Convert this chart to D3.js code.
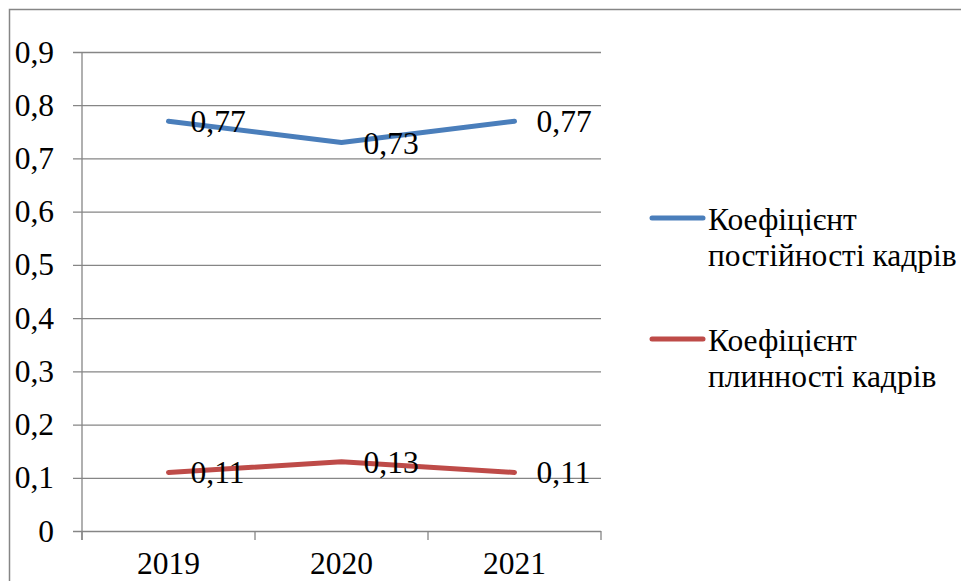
<!DOCTYPE html>
<html>
<head>
<meta charset="utf-8">
<script src="https://cdn.jsdelivr.net/npm/d3@7"></script>
</head>
<body style="margin:0;background:#fff">
<svg id="chart" width="961" height="581" font-family="Liberation Serif" style="display:block"></svg>
<script>
// Chart data
const years = ["2019", "2020", "2021"];
const constancyValues = [0.77, 0.73, 0.77];
const turnoverValues = [0.11, 0.13, 0.11];
const seriesNames = ["Коефіцієнт постійності кадрів", "Коефіцієнт плинності кадрів"];
const legendLines = [["Коефіцієнт", "постійності кадрів"], ["Коефіцієнт", "плинності кадрів"]];
const yTicks = [0, 0.1, 0.2, 0.3, 0.4, 0.5, 0.6, 0.7, 0.8, 0.9];

const series = [
  { name: seriesNames[0], values: constancyValues, color: "#4A7EBB", legend: legendLines[0] },
  { name: seriesNames[1], values: turnoverValues, color: "#BE4B48", legend: legendLines[1] }
];

const svg = d3.select("#chart");
const plot = { left: 82, right: 601, top: 52, bottom: 531 };
const gridColor = "#868686";
const FONT = "Liberation Serif";
const fontSize = 31.5;

// Common text styling
function styleText(sel) {
  sel.attr("font-family", FONT)
    .style("font-family", "'" + FONT + "'")
    .attr("font-size", fontSize)
    .attr("fill", "#000");
}

const fmt = d => d === 0 ? "0" : d3.format(".1f")(d).replace(".", ",");
const fmtLabel = d => d3.format(".2f")(d).replace(".", ",");

// Outer frame of the chart area
svg.append("rect")
  .attr("x", 9.5).attr("y", 9.5)
  .attr("width", 1000).attr("height", 1000)
  .attr("fill", "none")
  .attr("stroke", gridColor)
  .attr("stroke-width", 1.5);

const x = d3.scaleBand().domain(years).range([plot.left, plot.right]).padding(0);
const y = d3.scaleLinear().domain([0, 0.9]).range([plot.bottom, plot.top]);
const cx = d => x(d) + x.bandwidth() / 2;

// Horizontal gridlines with left tick marks and labels
const yAxis = d3.axisLeft(y).tickValues(yTicks).tickFormat(fmt)
  .tickSize(-(plot.right - plot.left)).tickPadding(0);
const gy = svg.append("g").attr("transform", `translate(${plot.left},0)`).call(yAxis);
gy.attr("font-family", FONT).attr("font-size", fontSize);
gy.select(".domain").remove();
gy.selectAll(".tick line")
  .attr("x1", -9)
  .attr("stroke", gridColor).attr("stroke-width", 1.3);
gy.selectAll(".tick text")
  .attr("x", -28)
  .call(styleText);

// Vertical value axis line
svg.append("line")
  .attr("x1", plot.left).attr("x2", plot.left)
  .attr("y1", plot.top).attr("y2", plot.bottom + 9)
  .attr("stroke", gridColor).attr("stroke-width", 1.3);

// Category axis with ticks on band boundaries
const boundaries = years.map(d => x(d)).concat([plot.right]);
svg.append("g").selectAll("line").data(boundaries).join("line")
  .attr("x1", d => d).attr("x2", d => d)
  .attr("y1", plot.bottom).attr("y2", plot.bottom + 9)
  .attr("stroke", gridColor).attr("stroke-width", 1.3);

svg.append("g").selectAll("text").data(years).join("text")
  .attr("x", d => cx(d))
  .attr("y", 574)
  .attr("text-anchor", "middle")
  .call(styleText)
  .text(d => d);

// Series lines
const line = d3.line().x((d, i) => cx(years[i])).y(d => y(d));
series.forEach(s => {
  svg.append("path")
    .datum(s.values)
    .attr("d", line)
    .attr("fill", "none")
    .attr("stroke", s.color)
    .attr("stroke-width", 5)
    .attr("stroke-linecap", "round")
    .attr("stroke-linejoin", "round");
});

// Data labels to the right of each point
series.forEach(s => {
  svg.append("g").selectAll("text").data(s.values).join("text")
    .attr("x", (d, i) => cx(years[i]) + 22)
    .attr("y", d => y(d))
    .attr("dy", "0.35em")
    .call(styleText)
    .text(d => fmtLabel(d));
});

// Legend
const legendTop = [218, 339];
series.forEach((s, i) => {
  const g = svg.append("g").attr("transform", `translate(0,${legendTop[i]})`);
  g.append("line")
    .attr("x1", 652).attr("x2", 703)
    .attr("y1", 0).attr("y2", 0)
    .attr("stroke", s.color).attr("stroke-width", 5)
    .attr("stroke-linecap", "round");
  g.append("text")
    .attr("x", 708)
    .attr("y", 12)
    .call(styleText)
    .selectAll("tspan").data(s.legend).join("tspan")
    .attr("x", 708)
    .attr("dy", (d, j) => j === 0 ? 0 : 36)
    .text(d => d);
});
</script>
</body>
</html>
